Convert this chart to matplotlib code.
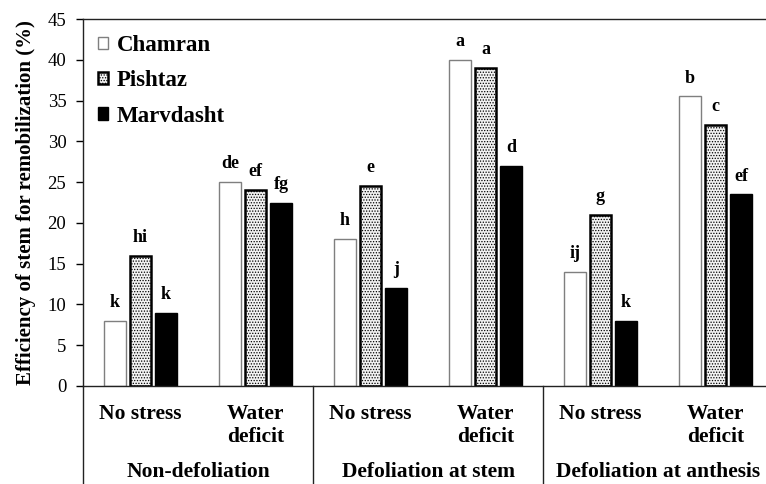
import matplotlib
matplotlib.use("Agg")
import matplotlib.pyplot as plt
import numpy as np

# values
treatments = ["Non-defoliation", "Defoliation at stem", "Defoliation at anthesis"]
conditions = ["No stress", "Water\ndeficit", "No stress", "Water\ndeficit", "No stress", "Water\ndeficit"]
chamran = [8, 25, 18, 40, 14, 35.5]
pishtaz = [16, 24, 24.5, 39, 21, 32]
marvdasht = [9, 22.5, 12, 27, 8, 23.5]
chamran_letters = ["k", "de", "h", "a", "ij", "b"]
pishtaz_letters = ["hi", "ef", "e", "a", "g", "c"]
marvdasht_letters = ["k", "fg", "j", "d", "k", "ef"]

plt.rcParams['font.family'] = ['Liberation Serif', 'DejaVu Serif']
plt.rcParams['hatch.linewidth'] = 0.6

fig = plt.figure(figsize=(7.66, 4.84), dpi=100)
ax = fig.add_axes([83 / 766, (484 - 386) / 484, 690 / 766, 367 / 484])

x = np.arange(len(conditions))
w = 0.19
off = 0.222

ax.bar(x - off, chamran, w, color="white", edgecolor="#7f7f7f", linewidth=1.0, label="Chamran")
ax.bar(x, pishtaz, w, color="#f2f2f2", edgecolor="black", linewidth=1.8, hatch="......", label="Pishtaz")
ax.bar(x + off, marvdasht, w, color="black", edgecolor="black", linewidth=1.0, label="Marvdasht")

for vals, labs, dx in [(chamran, chamran_letters, -off), (pishtaz, pishtaz_letters, 0), (marvdasht, marvdasht_letters, off)]:
    for i, (v, t) in enumerate(zip(vals, labs)):
        ax.text(x[i] + dx, v + 1.2, t, ha="center", va="bottom", fontsize=13, fontweight="bold")

ax.set_xlim(-0.5, 5.5)
ax.set_ylim(0, 45)
ax.set_yticks(range(0, 46, 5))
ax.tick_params(axis="y", direction="out", length=5, width=1, labelsize=13.5, pad=7)
ax.set_xticks(x)
ax.set_xticklabels(conditions, fontsize=15.5, fontweight="bold")
ax.tick_params(axis="x", length=0, pad=13)
ax.set_ylabel("Efficiency of stem for remobilization (%)", fontsize=15, fontweight="bold", labelpad=8)

for s in ax.spines.values():
    s.set_color("#222222")
    s.set_linewidth(1.0)

# separators and left spine extension below the axis
for xs in [-0.5, 1.5, 3.5]:
    ax.plot([xs, xs], [0, -0.3], transform=ax.get_xaxis_transform(), color="#222222",
            linewidth=1.0, clip_on=False)

for i, t in enumerate(treatments):
    ax.text(2 * i + 0.5, -0.247, t, transform=ax.get_xaxis_transform(), ha="center",
            va="baseline", fontsize=15.5, fontweight="bold")

ax.legend(loc="upper left", bbox_to_anchor=(-0.008, 1.012), frameon=False, prop={"size": 16.5, "weight": "bold"},
          handlelength=0.45, handleheight=0.45, handletextpad=0.35, labelspacing=0.62, borderaxespad=0.5)

fig.savefig("out.png", dpi=100)
